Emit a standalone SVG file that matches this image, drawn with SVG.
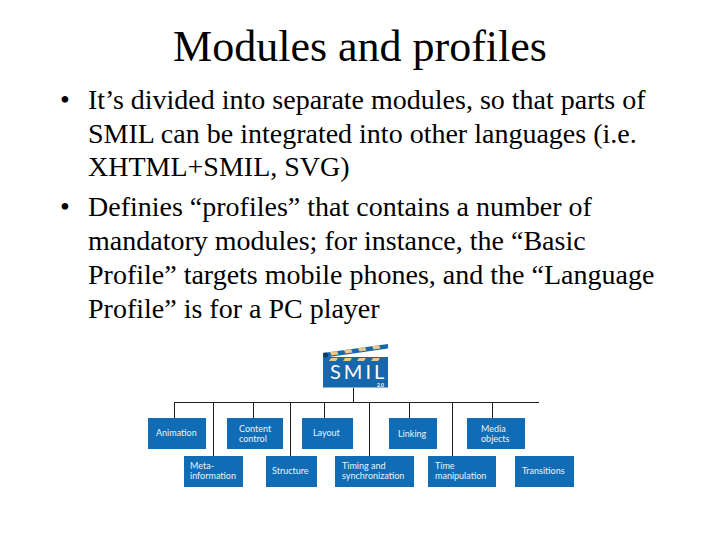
<svg xmlns="http://www.w3.org/2000/svg" width="720" height="540" viewBox="0 0 720 540">
<style>
.t{font-family:"Liberation Serif","Times New Roman",serif;fill:#000}
.title{font-size:44px;text-anchor:middle}
.b{font-size:28px}
.box{fill:#0f6cb5}
.l{font-family:"Lato","Open Sans",sans-serif;font-size:9px;fill:#eef3f8}
.c{stroke:#1a1a1a;stroke-width:1;fill:none}
.g{fill:#e8c98a}
.lg{font-family:"Lato","Open Sans",sans-serif;fill:#fff}
</style>
<rect width="720" height="540" fill="#fff"/>
<text class="t title" x="360" y="61">Modules and profiles</text>
<g id="body">
<text class="t b" x="60" y="109">•</text>
<text class="t b" x="88" y="109">It’s divided into separate modules, so that parts of</text>
<text class="t b" x="88" y="143">SMIL can be integrated into other languages (i.e.</text>
<text class="t b" x="88" y="176">XHTML+SMIL, SVG)</text>
<text class="t b" x="60" y="216">•</text>
<text class="t b" x="88" y="216">Definies “profiles” that contains a number of</text>
<text class="t b" x="88" y="250">mandatory modules; for instance, the “Basic</text>
<text class="t b" x="88" y="284">Profile” targets mobile phones, and the “Language</text>
<text class="t b" x="88" y="318">Profile” is for a PC player</text>
</g>
<g id="connectors">
<path class="c" d="M174 402.500H539M353.500 388V402.500M174.500 402V418M213.500 402V456M253.500 402V418M290.500 402V456M324.500 402V418M369.500 402V456M409.500 402V418M452.500 402V456M492.500 402V418"/>
</g>
<g id="logo">
<path fill="#1667ab" d="M323 357H388V387.500H323Z"/>
<path fill="#1667ab" d="M323 353L388 344V348.500L325 357.500H323Z"/>
<path class="g" d="M330 352l7-1 1.500 3.500-7 1zM344 350l7-1 1.500 3.500-7 1zM358 348l7-1 1.500 3.500-7 1zM372 346l7-1 1.500 3.500-7 1z"/>
<path class="g" d="M331 358h7l-2 3h-7zM345 358h7l-2 3h-7zM359 358h7l-2 3h-7zM373 358h7l-2 3h-7z"/>
<circle cx="325.500" cy="355" r="2.500" fill="#16385c"/>
<text class="lg" x="330" y="379" font-size="20" letter-spacing="3">SMIL</text>
<text class="lg" x="377" y="386.500" font-size="5" font-weight="700">2.0</text>
</g>
<g id="animation"><rect class="box" x="148" y="418" width="58" height="31"/><text class="l" x="156" y="436">Animation</text></g>
<g id="content"><rect class="box" x="227" y="418" width="56" height="31"/><text class="l" x="239" y="432">Content</text><text class="l" x="239" y="442">control</text></g>
<g id="layout"><rect class="box" x="302" y="418" width="51" height="31"/><text class="l" x="313" y="436">Layout</text></g>
<g id="linking"><rect class="box" x="389" y="418" width="48" height="31"/><text class="l" x="398" y="437">Linking</text></g>
<g id="media"><rect class="box" x="467" y="418" width="58" height="31"/><text class="l" x="481" y="432">Media</text><text class="l" x="481" y="442">objects</text></g>
<g id="meta"><rect class="box" x="184" y="456" width="59" height="31"/><text class="l" x="190" y="469">Meta-</text><text class="l" x="190" y="479">information</text></g>
<g id="structure"><rect class="box" x="266" y="456" width="51" height="31"/><text class="l" x="272" y="474">Structure</text></g>
<g id="timing"><rect class="box" x="335" y="456" width="79" height="31"/><text class="l" x="342" y="469">Timing and</text><text class="l" x="342" y="479">synchronization</text></g>
<g id="time"><rect class="box" x="428" y="456" width="68" height="31"/><text class="l" x="435" y="469">Time</text><text class="l" x="435" y="479">manipulation</text></g>
<g id="transitions"><rect class="box" x="515" y="456" width="59" height="31"/><text class="l" x="522" y="474">Transitions</text></g>
</svg>
